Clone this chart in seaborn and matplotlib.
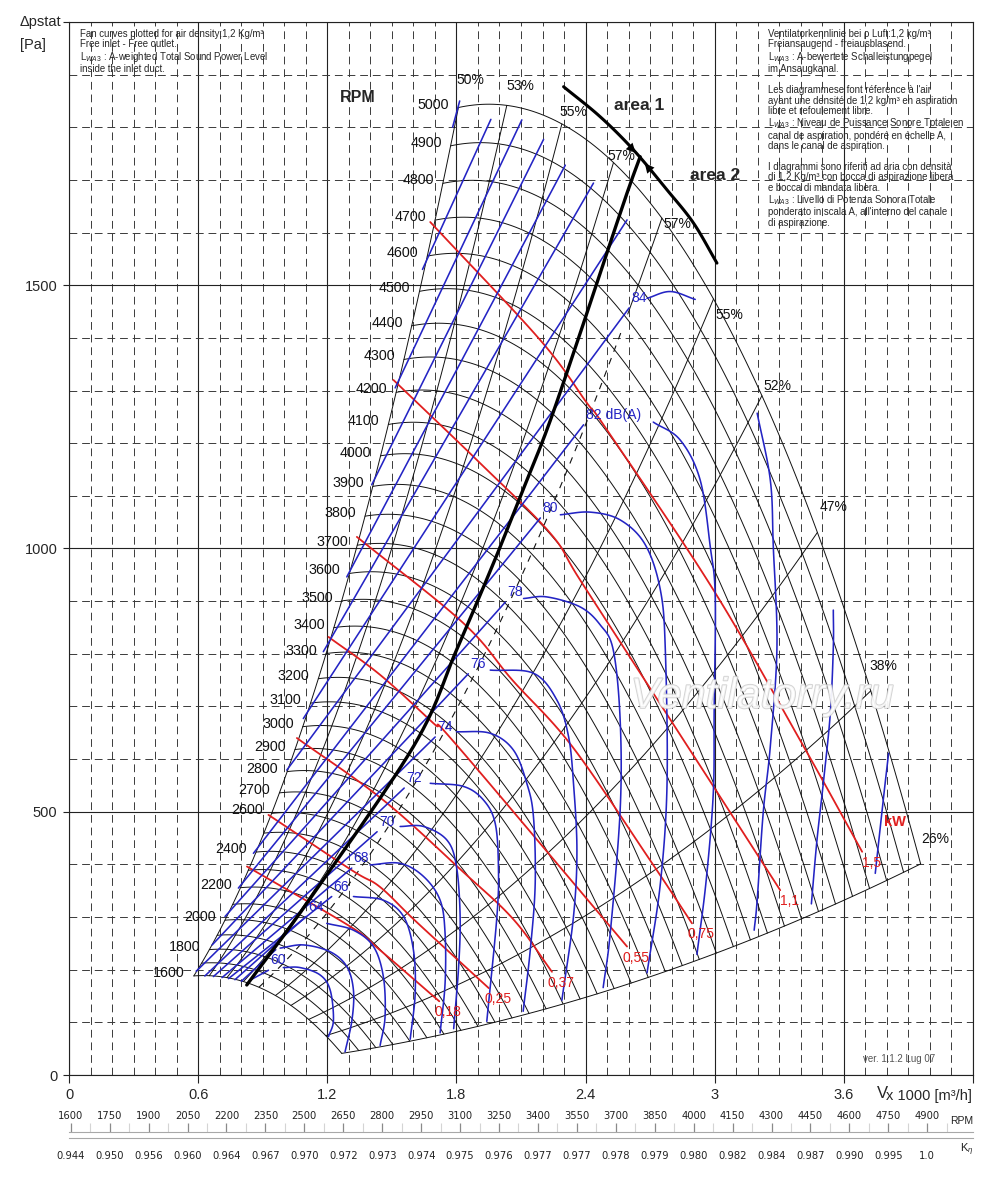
import numpy as np
import pandas as pd
import matplotlib
matplotlib.use("Agg")
import matplotlib.pyplot as plt
import matplotlib.patheffects as pe
from matplotlib.patches import FancyArrowPatch
import seaborn as sns

# ------------------------------------------------------------------
# Data  (V in 1000 m3/h, static pressure in Pa)
# ------------------------------------------------------------------
FAN5000_V = [1.809, 2.036, 2.236, 2.392, 2.532, 2.655, 2.78, 2.888, 2.997, 3.09, 3.183, 3.245, 3.478, 3.726, 3.958]
FAN5000_P = [1851, 1834, 1804, 1770, 1725, 1675, 1618, 1561, 1491, 1421, 1339, 1263, 985, 715, 421]
RPM_CURVES = list(range(1600, 5001, 100))
RPM_LABELS = [1600, 1800, 2000, 2200, 2400] + list(range(2600, 5001, 100))

EFF_LABELS = ["50%", "53%", "55%", "57%", "57%", "55%", "52%", "47%", "38%", "26%"]
EFF_V_AT_5000 = [1.809, 2.034, 2.29, 2.53, 2.755, 2.995, 3.22, 3.478, 3.726, 3.958]

# thick "area" lines
AREA_LINE_V = [0.825, 1.104, 1.60, 1.80, 1.972, 2.096, 2.22, 2.344, 2.468, 2.593, 2.654]
AREA_LINE_P = [171, 326, 624, 807, 972, 1098, 1225, 1371, 1523, 1675, 1744]
AREA_SEP_V = [2.298, 2.468, 2.623, 2.779, 2.902, 3.011]
AREA_SEP_P = [1877, 1820, 1757, 1681, 1618, 1542]

# absorbed power lines (kW)
KW_LABELS = ["0,18", "0,25", "0,37", "0,55", "0,75", "1,1", "1,5"]
KW_018 = [(0.826, 396), (1.306, 282), (1.445, 237), (1.72, 140)]
KW_025 = [(0.926, 494), (1.313, 389), (1.445, 357), (1.616, 290), (1.95, 165)]
KW_037 = [(1.058, 640), (1.46, 522), (1.833, 385), (2.066, 295), (2.244, 196)]
KW_055 = [(1.205, 832), (1.445, 760), (1.693, 668), (1.80, 627), (2.593, 244)]
KW_075 = [(1.337, 1022), (1.83, 859), (2.06, 750), (2.34, 623), (2.7, 408), (2.895, 288)]
KW_11 = [(1.507, 1320), (1.91, 1162), (2.236, 1029), (2.375, 940), (2.75, 703), (3.05, 513), (3.305, 351)]
KW_15 = [(1.678, 1620), (2.189, 1396), (2.407, 1276), (2.5, 1225), (2.995, 921), (3.414, 624), (3.686, 424)]

# sound power contours dB(A): straight part (start -> end) and arch
NOISE_LEVELS = [60, 62, 64, 66, 68, 70, 72, 74, 76, 78, 80, 82, 84, 86, 88, 90, 92, 94, 96, 98]
NOISE_TEXT = ["60", "", "64", "66", "68", "70", "72", "74", "76", "78", "80", "82 dB(A)", "84",
              "", "", "", "", "", "", ""]
NOISE_START = [(0.84, 180), (0.80, 178), (0.77, 181), (0.74, 183), (0.71, 185), (0.67, 187),
               (0.63, 188), (0.59, 197), (0.664, 247), (0.724, 301), (0.786, 355), (0.856, 421),
               (1.011, 579), (1.088, 677), (1.181, 804), (1.290, 946), (1.406, 1121),
               (1.515, 1305), (1.642, 1530), (1.782, 1800)]
NOISE_END = [(0.926, 199), (0.96, 238), (1.101, 301), (1.22, 339), (1.313, 393), (1.431, 462),
             (1.557, 545), (1.701, 642), (1.855, 762), (2.027, 898), (2.19, 1058), (2.391, 1235),
             (2.603, 1457), (2.593, 1624), (2.437, 1694), (2.306, 1728), (2.205, 1777),
             (2.104, 1814), (1.96, 1815), (1.815, 1850)]
ARCH_60 = [(0.995, 204), (1.073, 204), (1.166, 190), (1.213, 161), (1.228, 104), (1.205, 73)]
ARCH_62 = [(0.98, 241), (1.089, 247), (1.213, 234), (1.29, 206), (1.321, 161), (1.314, 104), (1.282, 44)]
ARCH_64 = [(1.197, 288), (1.321, 275), (1.414, 244), (1.46, 187), (1.468, 111), (1.445, 56)]
ARCH_66 = [(1.321, 339), (1.46, 332), (1.554, 301), (1.60, 237), (1.608, 155), (1.585, 68)]
ARCH_68 = [(1.398, 399), (1.538, 402), (1.647, 377), (1.724, 332), (1.747, 269), (1.747, 174), (1.724, 80)]
ARCH_70 = [(1.538, 472), (1.647, 472), (1.756, 446), (1.80, 396), (1.817, 301), (1.81, 206), (1.787, 88)]
ARCH_72 = [(1.678, 554), (1.833, 548), (1.926, 522), (1.98, 478), (1.995, 396), (1.988, 301), (1.941, 102)]
ARCH_74 = [(1.80, 652), (1.957, 649), (2.065, 617), (2.127, 554), (2.158, 490), (2.166, 363), (2.143, 237), (2.11, 121)]
ARCH_76 = [(1.957, 769), (2.158, 763), (2.267, 712), (2.321, 643), (2.344, 554), (2.36, 427), (2.344, 301), (2.29, 142)]
ARCH_78 = [(2.112, 905), (2.22, 908), (2.375, 889), (2.468, 855), (2.529, 807), (2.561, 674), (2.561, 503), (2.515, 270), (2.482, 166)]
ARCH_80 = [(2.283, 1064), (2.422, 1069), (2.562, 1054), (2.678, 1007), (2.748, 921), (2.771, 807), (2.779, 554), (2.748, 364), (2.686, 194)]
ARCH_82 = [(2.715, 1240), (2.84, 1206), (2.933, 1130), (2.98, 1003), (3.003, 908), (2.998, 688), (2.994, 536), (2.961, 370), (2.918, 229)]
ARCH_84 = [(2.686, 1475), (2.794, 1488), (2.91, 1473)]
LEG_84 = [(3.198, 1257), (3.259, 1130), (3.273, 1003), (3.29, 813), (3.259, 624), (3.226, 498), (3.198, 332), (3.184, 275)]
LEG_86 = [(3.552, 883), (3.552, 813), (3.538, 687), (3.507, 560), (3.476, 446), (3.45, 325)]
LEG_88 = [(3.809, 611), (3.786, 529), (3.747, 383)]

# bottom scales
SCALE_RPM = list(range(1600, 4901, 150))
SCALE_K = ["0.944", "0.950", "0.956", "0.960", "0.964", "0.967", "0.970", "0.972", "0.973",
           "0.974", "0.975", "0.976", "0.977", "0.977", "0.978", "0.979", "0.980", "0.982",
           "0.984", "0.987", "0.990", "0.995", "1.0"]

# ------------------------------------------------------------------
BLUE = "#2424c4"
RED = "#e01f1f"

sns.set_theme(style="white")
plt.rcParams["font.family"] = ["Liberation Sans", "DejaVu Sans"]
plt.rcParams["mathtext.fontset"] = "custom"
plt.rcParams["mathtext.rm"] = "Liberation Sans"
plt.rcParams["mathtext.it"] = "Liberation Sans:italic"


def catmull(pts, n=14):
    P = np.asarray(pts, float)
    if len(P) < 3:
        return P
    ext = np.vstack([2 * P[0] - P[1], P, 2 * P[-1] - P[-2]])
    t = np.linspace(0, 1, n, endpoint=False)[:, None]
    segs = []
    for i in range(1, len(ext) - 2):
        p0, p1, p2, p3 = ext[i - 1], ext[i], ext[i + 1], ext[i + 2]
        segs.append(0.5 * (2 * p1 + (-p0 + p2) * t + (2 * p0 - 5 * p1 + 4 * p2 - p3) * t ** 2
                           + (-p0 + 3 * p1 - 3 * p2 + p3) * t ** 3))
    segs.append(P[-1:])
    return np.vstack(segs)


def frame(pts, key, smooth=True):
    arr = catmull(pts) if smooth else np.asarray(pts, float)
    return pd.DataFrame({"V": arr[:, 0], "p": arr[:, 1], "id": key})


def draw(df, ax, **kw):
    sns.lineplot(data=df, x="V", y="p", units="id", estimator=None, sort=False,
                 legend=False, ax=ax, **kw)


fig = plt.figure(figsize=(10, 11.84), dpi=100)
L, W = 0.0693, 0.9034
ax = fig.add_axes([L, 0.09206, W, 0.8894])

# --- fan curves (affinity laws from the 5000 rpm curve)
coef = np.polyfit(FAN5000_V, FAN5000_P, 3)
vb = np.linspace(FAN5000_V[0], FAN5000_V[-1], 120)
pb = np.polyval(coef, vb)
fan_df = pd.concat([pd.DataFrame({"V": vb * n / 5000, "p": pb * (n / 5000) ** 2, "id": n})
                    for n in RPM_CURVES])
draw(fan_df, ax, color="#111111", lw=0.7, zorder=3)

# --- efficiency (system) lines
eff_frames = []
eff_ends = []
for i, v5 in enumerate(EFF_V_AT_5000):
    p5 = np.polyval(coef, v5)
    k = p5 / v5 ** 2
    vv = np.linspace(v5 * 0.32, v5, 60)
    eff_ends.append((v5, p5))
    if i == 4:
        pp = k * vv ** 2
        upper = pp >= 1440
        eff_frames.append(pd.DataFrame({"V": vv[upper], "p": pp[upper], "id": i}))
        dash_df = pd.DataFrame({"V": vv[~upper], "p": pp[~upper], "id": 100})
    else:
        eff_frames.append(pd.DataFrame({"V": vv, "p": k * vv ** 2, "id": i}))
draw(pd.concat(eff_frames), ax, color="#111111", lw=0.7, zorder=3)
draw(dash_df, ax, color="#111111", lw=0.8, zorder=3, linestyle=(0, (6, 6)))

# --- power lines
kw_sets = [KW_018, KW_025, KW_037, KW_055, KW_075, KW_11, KW_15]
draw(pd.concat([frame(s, i) for i, s in enumerate(kw_sets)]), ax, color=RED, lw=1.3, zorder=4)

# --- noise contours
noise_frames = []
for i, (s, e) in enumerate(zip(NOISE_START, NOISE_END)):
    noise_frames.append(frame([s, e], f"s{i}", smooth=False))
arches = [ARCH_60, ARCH_62, ARCH_64, ARCH_66, ARCH_68, ARCH_70, ARCH_72, ARCH_74, ARCH_76,
          ARCH_78, ARCH_80, ARCH_82, ARCH_84, LEG_84, LEG_86, LEG_88]
for i, a in enumerate(arches):
    noise_frames.append(frame(a, f"a{i}"))
draw(pd.concat(noise_frames), ax, color=BLUE, lw=1.15, zorder=5)

# --- thick area lines
draw(frame(list(zip(AREA_LINE_V, AREA_LINE_P)), "area"), ax, color="black", lw=2.4, zorder=6)
draw(frame(list(zip(AREA_SEP_V, AREA_SEP_P)), "sep"), ax, color="black", lw=2.2, zorder=6)
tip = (AREA_LINE_V[-1], AREA_LINE_P[-1])
for dv in (-0.10, 0.11):
    v0 = tip[0] + dv
    p0 = np.interp(v0, AREA_SEP_V, AREA_SEP_P)
    v1 = tip[0] + dv * 0.12
    p1 = np.interp(v1, AREA_SEP_V, AREA_SEP_P)
    ax.add_patch(FancyArrowPatch((v0, p0), (v1, p1), arrowstyle="-|>", mutation_scale=17,
                                 color="black", lw=0, zorder=7))

# --- labels: rpm
for n in RPM_LABELS:
    r = n / 5000
    ax.annotate(str(n), (vb[0] * r, pb[0] * r * r), xytext=(-9, 3), textcoords="offset pixels",
                ha="right", va="center", fontsize=10.3, color="#111111", zorder=8)

# --- labels: efficiency
eff_off = [(12, 28), (14, 19), (12, 12), (8, 7), (15, -6), (16, -16), (16, 10), (16, 25), (13, 25), (15, 25)]
for lab, (v, p), off in zip(EFF_LABELS, eff_ends, eff_off):
    ax.annotate(lab, (v, p), xytext=off, textcoords="offset pixels", ha="center", va="center",
                fontsize=10, color="#111111", zorder=8)

# --- labels: power
for lab, s in zip(KW_LABELS, kw_sets):
    ax.annotate(lab, s[-1], xytext=(9, -11), textcoords="offset pixels", ha="center", va="center",
                fontsize=10, color=RED, zorder=8)
ax.annotate("kW", KW_15[-1], xytext=(33, 30), textcoords="offset pixels", ha="center", va="center",
            fontsize=10.5, color=RED, fontweight="bold", zorder=8)

# --- labels: noise
for lab, e in zip(NOISE_TEXT, NOISE_END):
    if lab:
        ax.annotate(lab, e, xytext=(2, 10), textcoords="offset pixels", ha="left", va="center",
                    fontsize=10, color=BLUE, zorder=8)

# --- other chart texts
ax.text(1.343, 1856, "RPM", fontsize=11.5, fontweight="bold", ha="center", va="center", zorder=8)
ax.text(2.647, 1842, "area 1", fontsize=12.5, fontweight="bold", ha="center", va="center", zorder=8)
ax.text(3.003, 1709, "area 2", fontsize=12.5, fontweight="bold", ha="center", va="center", zorder=8)
ax.text(3.22, 718, "Ventilatorry.ru", fontsize=31, fontstyle="italic", ha="center", va="center",
        color="white", alpha=0.75, zorder=9,
        path_effects=[pe.withStroke(linewidth=1.3, foreground="#c4c4c4")])

# --- axes, grid
ax.set_xlim(0, 4.2)
ax.set_ylim(0, 2000)
ax.set_xlabel("")
ax.set_ylabel("")
ax.set_xticks(np.arange(0, 4.21, 0.6))
ax.set_xticklabels(["0", "0.6", "1.2", "1.8", "2.4", "3", "3.6", ""])
ax.set_yticks(np.arange(0, 2001, 500))
ax.set_yticklabels(["0", "500", "1000", "1500", ""])
ax.set_xticks(np.arange(0, 4.2, 0.1), minor=True)
ax.set_yticks(np.arange(0, 2000, 100), minor=True)
ax.set_axisbelow(True)
ax.grid(which="minor", color="#3a3a3a", lw=0.7, linestyle=(0, (8, 5)))
ax.grid(which="major", color="#222222", lw=0.8, linestyle="-")
ax.tick_params(which="minor", length=0)
ax.tick_params(axis="x", which="major", direction="out", length=6, width=0.8, color="#222",
               labelsize=10.5, pad=3, bottom=True)
ax.tick_params(axis="y", which="major", direction="out", length=4.5, width=0.8, color="#222",
               labelsize=10.5, pad=4, left=True)
for s in ax.spines.values():
    s.set_color("#222222")
    s.set_linewidth(0.8)

# --- figure texts
fig.text(0.020, 1 - 22 / 1184, "Δpstat", fontsize=10.5, va="center", ha="left")
fig.text(0.020, 1 - 45 / 1184, "[Pa]", fontsize=10.5, va="center", ha="left")
fig.text(0.972, 1 - 1096 / 1184, "x 1000 [m³/h]", fontsize=10.5, va="center", ha="right")
fig.text(0.888, 1 - 1094 / 1184, "V", fontsize=12, va="center", ha="right")
fig.text(0.863, 1 - 1059 / 1184, "ver. 1.1.2 Lug 07", fontsize=7, va="center", ha="left", color="#555555")

NOTE_LEFT = ("Fan curves plotted for air density:1,2 Kg/m³\n"
             "Free inlet - Free outlet.\n"
             "L$_{WA3}$ : A-weighted Total Sound Power Level\n"
             "inside the inlet duct.")
NOTE_RIGHT = ("Ventilatorkennlinie bei ρ Luft:1,2 kg/m³\n"
              "Freiansaugend - freiausblasend.\n"
              "L$_{WA3}$ : A-bewertete Schalleistungpegel\n"
              "im Ansaugkanal.\n\n"
              "Les diagrammese font réference à l'air\n"
              "ayant une densité de 1,2 kg/m³ en aspiration\n"
              "libre et refoulement libre.\n"
              "L$_{WA3}$ : Niveau de Puissance Sonore Totale en\n"
              "canal de aspiration, pondéré en échelle A,\n"
              "dans le canal de aspiration.\n\n"
              "I diagrammi sono riferiti ad aria con densità\n"
              "di 1,2 Kg/m³ con bocca di aspirazione libera\n"
              "e bocca di mandata libera.\n"
              "L$_{WA3}$ : Livello di Potenza Sonora Totale\n"
              "ponderato in scala A, all'interno del canale\n"
              "di aspirazione.")
fig.text(0.080, 1 - 29 / 1184, NOTE_LEFT, fontsize=6.9, va="top", ha="left", linespacing=1.05)
fig.text(0.768, 1 - 29 / 1184, NOTE_RIGHT, fontsize=6.9, va="top", ha="left", linespacing=1.05)

# --- bottom scales (RPM and K-eta)
px_per_rpm = (927.3 - 70.7) / 3300
xl = (SCALE_RPM[0] - (70.7 - 69.3) / px_per_rpm, SCALE_RPM[0] + (972.7 - 70.7) / px_per_rpm)

ax_r = fig.add_axes([L, 1 - 1132 / 1184 - 0.002, W, 0.002])
ax_r.set_xlim(*xl)
ax_r.patch.set_visible(False)
for s in ["left", "right", "bottom"]:
    ax_r.spines[s].set_visible(False)
ax_r.spines["top"].set_color("#a8a8a8")
ax_r.spines["top"].set_linewidth(0.8)
ax_r.set_yticks([])
ax_r.set_xticks(SCALE_RPM)
ax_r.set_xticklabels([str(r) for r in SCALE_RPM])
ax_r.set_xticks([r + 75 for r in SCALE_RPM], minor=True)
ax_r.tick_params(axis="x", which="major", direction="out", length=6.5, width=0.9, color="#8a8a8a",
                 labelsize=8, labelcolor="#222222", pad=1.5, top=True, bottom=False,
                 labeltop=True, labelbottom=False)
ax_r.tick_params(axis="x", which="minor", direction="out", length=6.5, width=0.8, color="#d4d4d4",
                 top=True, bottom=False)

ax_k = fig.add_axes([L, 1 - 1138 / 1184, W, 0.002])
ax_k.set_xlim(*xl)
ax_k.patch.set_visible(False)
for s in ["left", "right", "top"]:
    ax_k.spines[s].set_visible(False)
ax_k.spines["bottom"].set_color("#a8a8a8")
ax_k.spines["bottom"].set_linewidth(0.8)
ax_k.set_yticks([])
ax_k.set_xticks(SCALE_RPM)
ax_k.set_xticklabels(SCALE_K)
ax_k.tick_params(axis="x", which="major", direction="out", length=6.5, width=0.9, color="#8a8a8a",
                 labelsize=8, labelcolor="#222222", pad=3)

for a in (ax_r, ax_k):
    for lbl in a.get_xticklabels():
        lbl.set_family("DejaVu Sans")
        lbl.set_fontstretch("condensed")

fig.text(0.973, 1 - 1121 / 1184, "RPM", fontsize=7.5, va="center", ha="right", color="#222222")
fig.text(0.973, 1 - 1150 / 1184, "K$_{\\eta}$", fontsize=8, va="center", ha="right", color="#222222")

fig.savefig("out.png", dpi=100, facecolor="white")
